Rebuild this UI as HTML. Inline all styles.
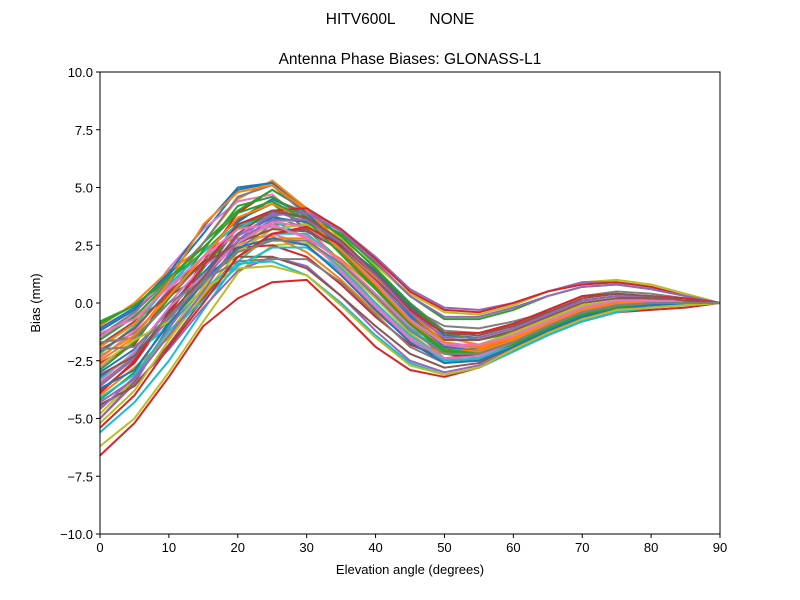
<!DOCTYPE html>
<html><head><meta charset="utf-8"><style>
body{margin:0;background:#fff;}
svg{display:block;font-family:"Liberation Sans","DejaVu Sans",sans-serif;}
</style></head><body>
<svg id="chart" width="800" height="600" viewBox="0 0 800 600">
<rect width="800" height="600" fill="#fff"/>
<text x="400" y="24" text-anchor="middle" font-size="15.5" xml:space="preserve">HITV600L        NONE</text>
<text x="410" y="64" text-anchor="middle" font-size="15.5">Antenna Phase Biases: GLONASS-L1</text>
<g id="lines"></g>
<g id="axes"></g>
<text x="410" y="574" text-anchor="middle" font-size="13">Elevation angle (degrees)</text>
<text transform="translate(40,303) rotate(-90)" text-anchor="middle" font-size="13">Bias (mm)</text>
</svg>
<script>
const elevations=[0,5,10,15,20,25,30,35,40,45,50,55,60,65,70,75,80,85,90];
const xTicks=[0,10,20,30,40,50,60,70,80,90];
const yTicks=[-10,-7.5,-5,-2.5,0,2.5,5,7.5,10];
const yTickLabels=["\u221210.0","\u22127.5","\u22125.0","\u22122.5","0.0","2.5","5.0","7.5","10.0"];
const series=[
[-1.2,-0.3,1.2,3.0,4.9,5.2,4.0,2.5,1.0,-0.5,-1.8,-2.0,-1.6,-0.9,-0.3,0.0,0.1,0.1,0],
[-2.5,-1.5,0.5,2.6,4.5,5.3,4.1,2.8,1.2,-0.3,-1.5,-1.8,-1.4,-0.8,-0.2,0.1,0.1,0.1,0],
[-0.8,-0.1,1.0,2.2,3.6,4.3,3.2,1.8,0.3,-1.2,-2.0,-2.2,-1.8,-1.1,-0.5,-0.2,0,0,0],
[-3.8,-2.6,-0.5,1.8,3.9,4.9,4.0,2.6,0.9,-0.8,-2.2,-2.4,-1.9,-1.2,-0.5,-0.1,0,0,0],
[-4.5,-3.5,-1.0,1.2,3.3,4.0,3.5,2.2,0.6,-1.0,-2.4,-2.5,-2.0,-1.3,-0.6,-0.2,-0.1,0,0],
[-5.0,-3.4,-1.0,1.0,3.6,4.5,3.9,2.5,0.8,-0.9,-2.1,-2.2,-1.7,-1.0,-0.4,-0.1,0,0,0],
[-1.5,-0.5,1.5,3.2,4.4,4.7,3.4,1.6,0.0,-1.5,-2.6,-2.5,-1.9,-1.2,-0.5,-0.2,-0.1,0,0],
[-2.0,-1.3,0.2,1.8,3.2,3.8,3.2,2.4,1.2,-0.2,-1.0,-1.1,-0.8,-0.4,0.1,0.3,0.2,0.1,0],
[-6.2,-5.0,-3.0,-0.8,1.3,2.5,2.6,1.6,0.2,-1.3,-2.4,-2.3,-1.7,-1.0,-0.4,-0.1,0,0,0],
[-5.6,-4.3,-2.5,-0.3,1.8,3.0,3.0,1.8,0.4,-1.1,-2.2,-2.2,-1.7,-1.0,-0.3,0,0.1,0,0],
[-3.2,-2.2,-0.2,1.5,3.5,4.5,3.8,2.3,0.6,-1.0,-2.0,-2.1,-1.6,-0.9,-0.2,0.1,0.1,0.1,0],
[-1.0,0.0,1.4,2.4,2.8,2.9,2.2,1.0,-0.4,-1.6,-2.2,-2.0,-1.5,-0.9,-0.4,-0.1,0,0,0],
[-4.2,-3.0,-0.8,1.5,3.3,3.9,3.7,3.0,1.7,0.3,-0.7,-0.7,-0.3,0.3,0.7,0.8,0.6,0.3,0],
[-6.6,-5.2,-3.2,-1.0,0.2,0.9,1.0,-0.4,-1.9,-2.9,-3.2,-2.8,-2.1,-1.4,-0.8,-0.4,-0.3,-0.2,0],
[-5.0,-3.5,-2.0,-0.2,1.4,2.0,1.6,0.3,-1.2,-2.5,-3.0,-2.7,-2.0,-1.3,-0.7,-0.3,-0.2,-0.1,0],
[-1.8,-0.8,0.3,1.2,2.0,2.0,1.5,0.3,-1.0,-2.2,-2.8,-2.6,-1.9,-1.2,-0.6,-0.3,-0.1,0,0],
[-2.8,-1.6,0.0,1.6,2.5,3.0,2.5,1.3,-0.2,-1.6,-2.5,-2.4,-1.8,-1.1,-0.5,-0.2,-0.1,0,0],
[-3.5,-2.3,-0.6,0.8,2.3,3.4,3.4,2.6,1.4,0.0,-1.2,-1.3,-0.9,-0.3,0.3,0.5,0.4,0.2,0],
[-4.8,-3.3,-1.3,0.7,2.5,3.5,3.6,2.8,1.6,0.4,-0.4,-0.5,-0.1,0.5,0.9,1.0,0.8,0.4,0],
[-2.2,-1.0,0.8,2.2,3.4,3.6,2.8,1.5,0.0,-1.4,-2.4,-2.3,-1.7,-1.0,-0.4,-0.1,0,0,0],
[-3.0,-2.0,-0.3,1.3,2.9,3.7,3.5,2.6,1.4,-0.1,-1.4,-1.5,-1.1,-0.5,0.1,0.3,0.2,0.1,0],
[-4.0,-2.8,-1.5,0.3,2.0,2.8,2.8,1.9,0.6,-1.0,-2.0,-1.9,-1.4,-0.8,-0.2,0.0,0,0,0],
[-1.6,-0.6,0.9,2.6,4.0,4.9,4.0,2.9,1.5,0.0,-1.3,-1.6,-1.3,-0.7,-0.1,0.1,0.1,0.1,0],
[-2.6,-1.8,0.4,1.8,2.4,2.5,2.0,0.8,-0.6,-1.8,-2.4,-2.2,-1.6,-1.0,-0.4,-0.1,0,0,0],
[-3.6,-2.4,-0.7,1.0,2.7,3.9,4.0,3.2,2.0,0.6,-0.2,-0.3,0.0,0.5,0.9,0.9,0.7,0.3,0],
[-4.4,-3.6,-1.8,0.2,2.0,3.0,3.2,2.3,0.9,-0.6,-1.6,-1.6,-1.2,-0.6,0.0,0.2,0.2,0.1,0],
[-2.4,-1.2,0.6,2.0,3.0,3.3,2.9,1.8,0.4,-1.0,-1.9,-1.9,-1.4,-0.8,-0.3,0,0.1,0,0],
[-1.4,-0.4,1.0,2.6,4.6,5.1,3.8,2.2,0.7,-0.8,-1.9,-2.1,-1.6,-1.0,-0.4,-0.1,0,0,0],
[-5.2,-3.8,-1.6,0.4,2.2,3.2,3.4,2.4,1.0,-0.6,-1.8,-1.8,-1.3,-0.7,-0.1,0.1,0.1,0.1,0],
[-3.3,-2.2,-1.0,0.6,1.7,1.8,1.2,0.0,-1.4,-2.6,-3.1,-2.8,-2.1,-1.4,-0.8,-0.4,-0.2,-0.1,0],
[-1.1,-0.2,1.3,3.3,5.0,5.2,3.9,2.4,0.9,-0.6,-1.9,-2.1,-1.7,-1.0,-0.4,-0.1,0,0,0],
[-1.9,-0.9,0.9,3.4,4.8,5.1,4.0,2.6,1.1,-0.4,-1.7,-1.9,-1.5,-0.9,-0.3,0,0.1,0,0],
[-2.9,-1.7,0.2,2.3,4.2,4.6,3.7,2.3,0.7,-0.9,-2.1,-2.2,-1.8,-1.1,-0.4,-0.1,0,0,0],
[-3.9,-2.5,-0.4,1.6,3.4,4.0,4.1,3.2,1.9,0.5,-0.3,-0.4,0.0,0.5,0.8,0.9,0.7,0.3,0],
[-4.6,-3.2,-1.1,0.9,2.9,3.8,3.9,3.1,1.8,0.3,-0.6,-0.6,-0.2,0.3,0.7,0.8,0.6,0.3,0],
[-2.1,-1.1,0.5,1.7,2.6,3.2,3.1,2.3,1.0,-0.4,-1.3,-1.3,-1.0,-0.5,0.1,0.3,0.2,0.1,0],
[-3.4,-2.1,-0.2,1.2,2.6,3.5,3.3,2.3,0.9,-0.7,-1.8,-1.8,-1.4,-0.8,-0.2,0.1,0.1,0.1,0],
[-1.7,-1.5,0.0,1.0,1.8,1.9,1.9,0.9,-0.5,-1.9,-2.6,-2.4,-1.8,-1.1,-0.5,-0.2,-0.1,0,0],
[-2.7,-1.6,-0.8,0.6,1.5,1.6,1.2,-0.1,-1.5,-2.7,-3.1,-2.8,-2.0,-1.3,-0.7,-0.3,-0.2,-0.1,0],
[-4.1,-3.1,-1.2,0.1,1.6,2.4,2.4,1.4,0.0,-1.5,-2.5,-2.4,-1.8,-1.1,-0.5,-0.2,-0.1,0,0],
[-3.7,-2.9,-0.9,0.9,2.4,2.8,2.5,1.2,-0.3,-1.7,-2.6,-2.5,-1.9,-1.2,-0.6,-0.2,-0.1,0,0],
[-2.3,-1.4,0.3,2.0,3.7,4.3,3.6,2.3,0.8,-0.8,-2.0,-2.1,-1.6,-0.9,-0.3,0,0,0,0],
[-0.9,-0.1,1.1,2.4,3.9,4.4,3.6,2.1,0.6,-0.9,-2.0,-2.2,-1.8,-1.1,-0.5,-0.2,0,0,0],
[-5.4,-4.0,-1.9,0.0,2.0,3.0,3.3,2.5,1.2,-0.3,-1.3,-1.3,-0.9,-0.3,0.3,0.4,0.3,0.2,0],
[-4.3,-3.3,-1.4,0.5,2.7,3.6,3.6,2.6,1.2,-0.4,-1.5,-1.5,-1.1,-0.5,0.1,0.3,0.3,0.1,0],
[-3.1,-2.3,-0.5,1.1,3.0,4.0,3.7,2.7,1.3,-0.2,-1.3,-1.4,-1.0,-0.4,0.2,0.4,0.3,0.1,0],
[-1.3,-0.7,0.7,2.0,3.2,3.4,2.8,1.4,-0.1,-1.5,-2.4,-2.3,-1.7,-1.0,-0.4,-0.1,0,0,0],
[-2.0,-1.9,-0.6,0.9,2.2,2.7,2.7,1.7,0.3,-1.2,-2.2,-2.2,-1.7,-1.0,-0.4,-0.1,0,0,0]
];
const colors=["#1f77b4","#ff7f0e","#2ca02c","#d62728","#9467bd","#8c564b","#e377c2","#7f7f7f","#bcbd22","#17becf"];
const NS="http://www.w3.org/2000/svg";
const X0=100,X1=720,Y0=534,Y1=72;
function xs(v){return X0+(v-0)/(90-0)*(X1-X0);}
function ys(v){return Y0-(v+10)/20*(Y0-Y1);}
const lines=document.getElementById('lines');
series.forEach((s,i)=>{
  const p=document.createElementNS(NS,'polyline');
  p.setAttribute('points',s.map((v,j)=>xs(elevations[j]).toFixed(2)+','+ys(v).toFixed(2)).join(' '));
  p.setAttribute('fill','none');
  p.setAttribute('stroke',colors[i%colors.length]);
  p.setAttribute('stroke-width','2');
  p.setAttribute('stroke-linejoin','round');
  
  
  lines.appendChild(p);
});
const axes=document.getElementById('axes');
const frame=document.createElementNS(NS,'rect');
frame.setAttribute('x',X0);frame.setAttribute('y',Y1);
frame.setAttribute('width',X1-X0);frame.setAttribute('height',Y0-Y1);
frame.setAttribute('fill','none');frame.setAttribute('stroke','#000');frame.setAttribute('stroke-width','1');


axes.appendChild(frame);
xTicks.forEach(t=>{
  const x=xs(t);
  const l=document.createElementNS(NS,'line');
  l.setAttribute('x1',x);l.setAttribute('x2',x);l.setAttribute('y1',Y0);l.setAttribute('y2',Y0+4);
  l.setAttribute('stroke','#000');
  
  
  axes.appendChild(l);
  const tx=document.createElementNS(NS,'text');
  tx.setAttribute('x',x);tx.setAttribute('y',Y0+18);tx.setAttribute('text-anchor','middle');tx.setAttribute('font-size','13');
  tx.textContent=t;
  
  
  axes.appendChild(tx);
});
yTicks.forEach((t,i)=>{
  const y=ys(t);
  const l=document.createElementNS(NS,'line');
  l.setAttribute('x1',X0-4);l.setAttribute('x2',X0);l.setAttribute('y1',y);l.setAttribute('y2',y);
  l.setAttribute('stroke','#000');
  
  
  axes.appendChild(l);
  const tx=document.createElementNS(NS,'text');
  tx.setAttribute('x',X0-7);tx.setAttribute('y',y+5);tx.setAttribute('text-anchor','end');tx.setAttribute('font-size','13');
  tx.textContent=yTickLabels[i];
  
  
  axes.appendChild(tx);
});
</script>
</body></html>
